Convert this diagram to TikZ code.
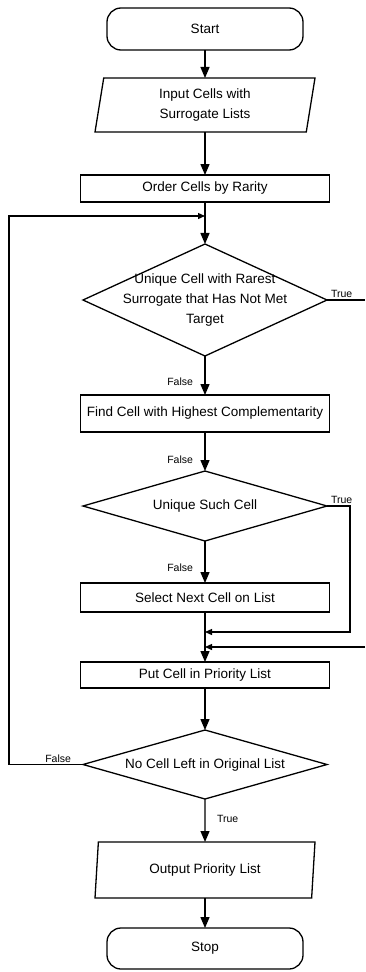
\documentclass[tikz,border=0pt]{standalone}
\usepackage{fontspec}
\setmainfont{Liberation Sans}
\usetikzlibrary{arrows.meta,%
                positioning,%
                shapes.geometric}

\begin{document}
\begin{tikzpicture}[>={Triangle[length=11pt,width=9pt]}, line width=1.3pt, x=1pt, y=1pt]
  \tikzset{every node/.style = {font=\fontsize{13.5}{20}\selectfont, align=center, inner sep=0pt, outer sep=0pt}}
  \tikzset{term/.style = {draw, rounded corners=14pt, minimum width=196pt, minimum height=42pt}}
  \tikzset{io/.style = {draw, trapezium, trapezium left angle=75, trapezium right angle=105,
                        trapezium stretches body, minimum width=220pt}}
  \tikzset{proc/.style = {draw, minimum width=249pt}}
  % text goes in as a centre label, so the diamond keeps its own size
  \tikzset{test/.style = {draw, diamond, minimum width=244pt, label={center:#1}}}
  \tikzset{lbl/.style = {font=\fontsize{10.5}{12}\selectfont}}
  \tikzset{back/.style = {->, >={Triangle[length=7pt,width=6pt]}}}
  \useasboundingbox (0,0) rectangle (365,-972);

  \node[term] (start) at (205,-29) {Start};
  \node[io, minimum height=54pt] (input) at (205,-105) {Input Cells with\\Surrogate Lists};
  \node[proc, minimum height=27pt] (order) at (205,-188.5) {Order Cells by Rarity};
  \node[test={Unique Cell with Rarest\\Surrogate that Has Not Met\\Target},
        minimum height=112pt] (rare) at (205,-300) {};
  \node[proc, minimum height=37pt] (find) at (205,-413.5) {Find Cell with Highest Complementarity};
  \node[test={Unique Such Cell}, minimum height=70pt] (uniq) at (205,-506) {};
  \node[proc, minimum height=29pt] (select) at (205,-597.5) {Select Next Cell on List};
  \node[proc, minimum height=26pt] (put) at (205,-675) {Put Cell in Priority List};
  \node[test={No Cell Left in Original List}, minimum height=69pt] (left) at (205,-764.5) {};
  \node[io, minimum height=56pt] (output) at (205,-870) {Output Priority List};
  \node[term, minimum height=41pt] (stop) at (205,-948.5) {Stop};

  \coordinate (loop) at (9,-216);
  \coordinate (edge1) at (365,-300);
  \coordinate (edge2) at (365,-647);
  \coordinate (turn) at (350,-632);

  \draw[->] (start) -- (input);
  \draw[->] (input) -- (order);
  \draw[->] (order) -- (rare);
  \draw[->] (rare) -- (find);
  \draw[->] (find) -- (uniq);
  \draw[->] (uniq) -- (select);
  \draw[->] (select) -- (put);
  \draw[->] (put) -- (left);
  \draw[->] (left) -- (output);
  \draw[->] (output) -- (stop);

  \draw (rare.east) -- (rare.east -| edge1);
  \draw[back] (uniq.east) -| (turn) -- (turn -| put.north);
  \draw[back] (edge2) -- (edge2 -| put.north);
  \draw[back] (left.west) -| (loop) -- (loop -| order.south);

  \node[lbl, anchor=south west] (true1) at ([shift={(4,2)}]rare.east) {True};
  \node[lbl, anchor=east] (false1) at ([shift={(-12,-26)}]rare.south) {False};
  \node[lbl, anchor=east] (false2) at ([shift={(-12,-28)}]find.south) {False};
  \node[lbl, anchor=south west] (true2) at ([shift={(4,2)}]uniq.east) {True};
  \node[lbl, anchor=east] (false3) at ([shift={(-12,-27)}]uniq.south) {False};
  \node[lbl, anchor=south east] (false4) at ([shift={(-12,2)}]left.west) {False};
  \node[lbl, anchor=west] (true3) at ([shift={(12,-20)}]left.south) {True};
\end{tikzpicture}
\end{document}
